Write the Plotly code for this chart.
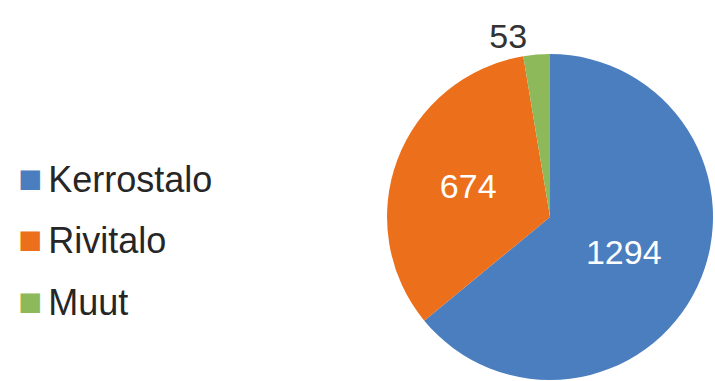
import plotly.graph_objects as go

labels = ["Kerrostalo", "Rivitalo", "Muut"]
values = [1294, 674, 53]
colors = ["#4A7EBE", "#EC6F1C", "#8DB95B"]
text_colors = ["white", "white", "#333333"]
text_positions = ["inside", "inside", "outside"]

FONT = "Liberation Sans, Arial, sans-serif"

fig = go.Figure()
fig.add_trace(go.Pie(
    labels=labels,
    values=values,
    sort=False,
    direction="clockwise",
    rotation=0,
    marker=dict(colors=colors, line=dict(width=0)),
    textinfo="value",
    textposition=text_positions,
    insidetextorientation="horizontal",
    textfont=dict(family=FONT, size=34, color=text_colors),
    automargin=False,
    showlegend=False,
    domain=dict(x=[0.5413, 0.9972], y=[0.0026, 0.8583]),
    hoverinfo="label+value",
))

legend_y = [0.533, 0.373, 0.210]
for lab, col, yy in zip(labels, colors, legend_y):
    fig.add_annotation(
        x=0.022, y=yy, xref="paper", yref="paper",
        xanchor="left", yanchor="middle", showarrow=False,
        text=(f'<span style="color:{col};font-size:40px">■</span>'
              f'<span style="font-size:22px"> </span>{lab}'),
        font=dict(family=FONT, size=36, color="#262626"),
    )

fig.update_layout(
    width=715, height=381,
    margin=dict(l=0, r=0, t=0, b=0),
    paper_bgcolor="white", plot_bgcolor="white",
)

fig.write_html("out.html")
